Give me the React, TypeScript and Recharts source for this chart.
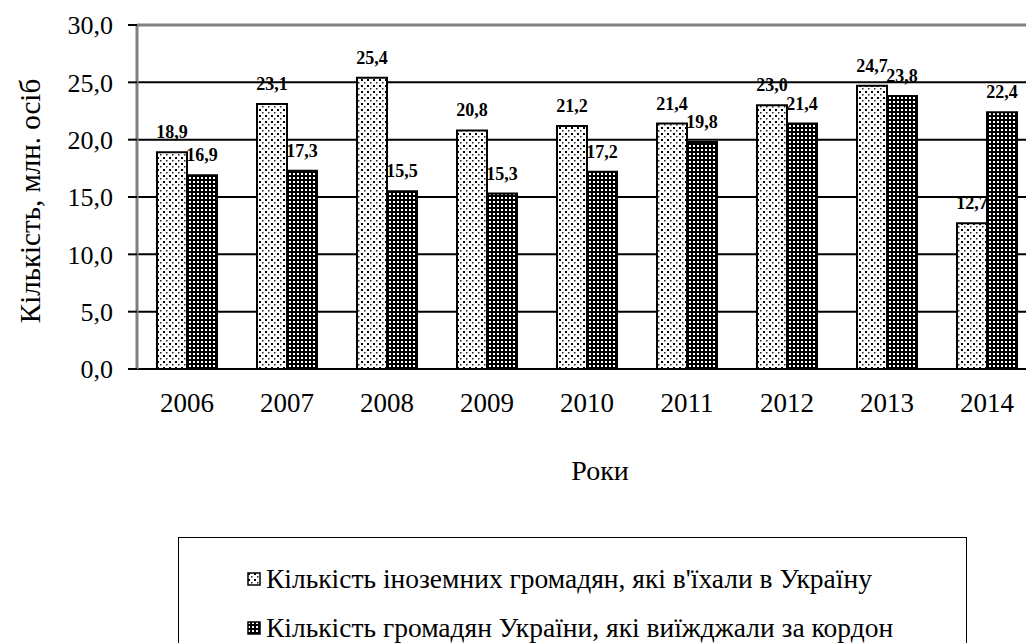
import { BarChart, Bar, XAxis, YAxis, CartesianGrid, ReferenceLine, LabelList } from 'recharts';

const years = ['2006', '2007', '2008', '2009', '2010', '2011', '2012', '2013', '2014'];
const foreignersIn = [18.9, 23.1, 25.4, 20.8, 21.2, 21.4, 23.0, 24.7, 12.7];
const ukrainiansOut = [16.9, 17.3, 15.5, 15.3, 17.2, 19.8, 21.4, 23.8, 22.4];
const yTicks = [0, 5, 10, 15, 20, 25, 30];
const boundaryTicks = [0, 1, 2, 3, 4, 5, 6, 7, 8, 9];

const seriesNames = [
    'Кількість іноземних громадян, які в\'їхали в Україну',
    'Кількість громадян України, які виїжджали за кордон',
];
const yTitle = 'Кількість, млн. осіб';
const xTitle = 'Роки';

const data = years.map((year, i) => ({ year, idx: i + 0.5, inbound: foreignersIn[i], outbound: ukrainiansOut[i] }));

const FONT = '"Liberation Serif", "Times New Roman", serif';
const fmt = (v: number) => v.toFixed(1).replace('.', ',');

function Patterns() {
    return (
        <defs>
            <pattern id="dotsFill" width="6" height="6" patternUnits="userSpaceOnUse">
                <rect width="6" height="6" fill="#fff" />
                <rect x="1" y="1" width="2" height="2" fill="#000" />
                <rect x="4" y="4" width="1.5" height="1.5" fill="#222" />
            </pattern>
            <pattern id="brickFill" width="4" height="4" patternUnits="userSpaceOnUse">
                <rect width="4" height="4" fill="#000" />
                <rect x="1" y="1" width="2" height="2" fill="#fff" />
            </pattern>
        </defs>
    );
}

function YTitle({ viewBox }: any) {
    const cy = viewBox.y + viewBox.height / 2 + 4;
    return (
        <text x={30} y={cy} transform={`rotate(-90 30 ${cy})`} textAnchor="middle" dominantBaseline="central"
            fontFamily={FONT} fontSize={29} fill="#000">{yTitle}</text>
    );
}

function XTitle({ viewBox }: any) {
    const cx = viewBox.x + viewBox.width / 2 + 13;
    return (
        <text x={cx} y={480} textAnchor="middle" fontFamily={FONT} fontSize={28} fill="#000">{xTitle}</text>
    );
}

function LegendBox() {
    const fills = ['url(#dotsFill)', 'url(#brickFill)'];
    return (
        <div style={{ position: 'absolute', left: 178, top: 537, width: 789, height: 110, border: '1.5px solid #000', boxSizing: 'border-box', background: '#fff' }}>
            {seriesNames.map((name, i) => (
                <div key={name} style={{ position: 'absolute', left: 68, top: 26 + i * 49, height: 30, display: 'flex', alignItems: 'center', whiteSpace: 'nowrap', fontFamily: FONT, fontSize: 27.5, color: '#000' }}>
                    <svg width={14} height={14} style={{ marginRight: 5 }}>
                        <rect x={1} y={1} width={12} height={12} fill={fills[i]} stroke="#000" strokeWidth={1.5} />
                    </svg>
                    {name}
                </div>
            ))}
        </div>
    );
}

export default function App() {
    return (
        <div style={{ position: 'absolute', left: 0, top: 0, width: 1026, height: 643, overflow: 'hidden', background: '#fff' }}>
            <BarChart width={1040} height={643} data={data} barCategoryGap="20%" barGap={0}
                margin={{ top: 25, right: 3, left: 0, bottom: 149 }}>
                <Patterns />
                <CartesianGrid horizontal vertical={false} stroke="#000" strokeWidth={2} />
                <XAxis xAxisId="grid" type="number" dataKey="idx" domain={[0, 9]} ticks={boundaryTicks} height={0}
                    axisLine={false} tickLine={{ stroke: '#000', strokeWidth: 2 }} tickSize={8} tickFormatter={() => ''} />
                <XAxis xAxisId="cat" dataKey="year" height={125} axisLine={{ stroke: '#000', strokeWidth: 2 }}
                    tickLine={false} tickSize={0} tickMargin={24} interval={0}
                    tick={{ fill: '#000', fontSize: 27, fontFamily: FONT }}
                    label={{ content: XTitle }} />
                <YAxis domain={[0, 30]} ticks={yTicks} width={137} tickFormatter={fmt}
                    axisLine={{ stroke: '#808080', strokeWidth: 3 }} tickLine={{ stroke: '#000', strokeWidth: 2 }}
                    tickSize={9} tickMargin={15} interval={0}
                    tick={{ fill: '#000', fontSize: 26, fontFamily: FONT }}
                    label={{ content: YTitle }} />
                <ReferenceLine y={30} xAxisId="cat" stroke="#808080" strokeWidth={3} />
                <Bar xAxisId="cat" dataKey="inbound" name={seriesNames[0]} fill="url(#dotsFill)" stroke="#000" strokeWidth={2} isAnimationActive={false}>
                    <LabelList dataKey="inbound" position="top" offset={14} formatter={(v: any) => fmt(Number(v))}
                        style={{ fill: '#000', fontSize: 18, fontFamily: FONT, fontWeight: 'bold' }} />
                </Bar>
                <Bar xAxisId="cat" dataKey="outbound" name={seriesNames[1]} fill="url(#brickFill)" stroke="#000" strokeWidth={2} isAnimationActive={false}>
                    <LabelList dataKey="outbound" position="top" offset={14} formatter={(v: any) => fmt(Number(v))}
                        style={{ fill: '#000', fontSize: 18, fontFamily: FONT, fontWeight: 'bold' }} />
                </Bar>
            </BarChart>
            <LegendBox />
        </div>
    );
}
